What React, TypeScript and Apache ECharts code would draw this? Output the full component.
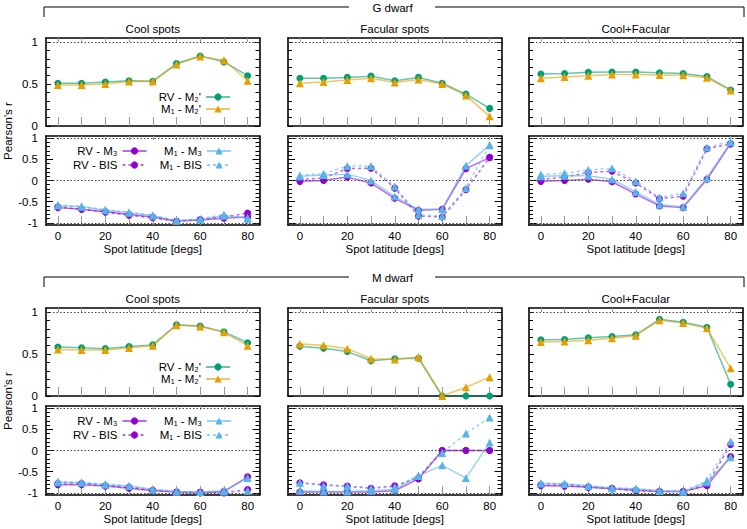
import React, { useEffect, useRef } from 'react';
import * as echarts from 'echarts';

// ---------- data ----------
const latitudes = ['0', '10', '20', '30', '40', '50', '60', '70', '80'];
const xLabel = 'Spot latitude [degs]';
const panelTitles = ['Cool spots', 'Facular spots', 'Cool+Facular'];
const groupTitles = ['G dwarf', 'M dwarf'];

const topNames = ["RV - M\u2082'", "M\u2081 - M\u2082'"];
const bottomNames = ['RV - M\u2083', 'RV - BIS', 'M\u2081 - M\u2083', 'M\u2081 - BIS'];

// G dwarf, upper panels (RV - M2', M1 - M2')
const gCoolRvM2 = [0.51, 0.51, 0.525, 0.54, 0.535, 0.745, 0.835, 0.765, 0.6];
const gCoolM1M2 = [0.49, 0.49, 0.5, 0.53, 0.53, 0.735, 0.83, 0.785, 0.54];
const gFacRvM2 = [0.57, 0.57, 0.58, 0.595, 0.54, 0.58, 0.51, 0.38, 0.21];
const gFacM1M2 = [0.51, 0.525, 0.55, 0.57, 0.52, 0.555, 0.5, 0.365, 0.115];
const gCfRvM2 = [0.62, 0.625, 0.64, 0.645, 0.645, 0.635, 0.625, 0.59, 0.43];
const gCfM1M2 = [0.57, 0.585, 0.6, 0.615, 0.615, 0.61, 0.605, 0.575, 0.425];

// G dwarf, lower panels (RV - M3, RV - BIS, M1 - M3, M1 - BIS)
const gCoolRvM3 = [-0.64, -0.68, -0.74, -0.8, -0.86, -0.96, -0.93, -0.89, -0.86];
const gCoolRvBis = [-0.62, -0.68, -0.74, -0.82, -0.88, -0.96, -0.92, -0.86, -0.77];
const gCoolM1M3 = [-0.59, -0.62, -0.7, -0.76, -0.83, -0.95, -0.92, -0.83, -0.88];
const gCoolM1Bis = [-0.58, -0.61, -0.69, -0.75, -0.82, -0.94, -0.91, -0.8, -0.9];
const gFacRvM3 = [-0.02, 0.0, 0.08, -0.06, -0.42, -0.7, -0.68, 0.28, 0.54];
const gFacRvBis = [0.02, 0.06, 0.28, 0.29, -0.18, -0.84, -0.86, -0.22, 0.55];
const gFacM1M3 = [0.1, 0.13, 0.15, 0.0, -0.38, -0.68, -0.67, 0.35, 0.84];
const gFacM1Bis = [0.12, 0.16, 0.34, 0.34, -0.14, -0.81, -0.84, -0.18, 0.83];
const gCfRvM3 = [-0.02, 0.0, 0.03, -0.03, -0.32, -0.6, -0.64, 0.03, 0.87];
const gCfRvBis = [0.03, 0.08, 0.19, 0.22, -0.06, -0.43, -0.37, 0.75, 0.86];
const gCfM1M3 = [0.1, 0.11, 0.11, 0.03, -0.27, -0.57, -0.62, 0.06, 0.9];
const gCfM1Bis = [0.14, 0.17, 0.25, 0.29, -0.02, -0.4, -0.3, 0.78, 0.92];

// M dwarf, upper panels
const mCoolRvM2 = [0.585, 0.575, 0.565, 0.59, 0.61, 0.85, 0.835, 0.765, 0.635];
const mCoolM1M2 = [0.555, 0.55, 0.548, 0.572, 0.6, 0.845, 0.83, 0.76, 0.6];
const mFacRvM2 = [0.595, 0.57, 0.53, 0.42, 0.445, 0.45, 0.0, 0.0, 0.0];
const mFacM1M2 = [0.62, 0.605, 0.565, 0.445, 0.435, 0.465, 0.0, 0.105, 0.225];
const mCfRvM2 = [0.67, 0.675, 0.695, 0.71, 0.73, 0.915, 0.88, 0.82, 0.14];
const mCfM1M2 = [0.645, 0.65, 0.665, 0.69, 0.72, 0.905, 0.87, 0.81, 0.33];

// M dwarf, lower panels
const mCoolRvM3 = [-0.81, -0.81, -0.84, -0.89, -0.95, -0.98, -1.0, -0.97, -0.62];
const mCoolRvBis = [-0.78, -0.78, -0.83, -0.87, -0.94, -0.98, -0.98, -1.0, -0.92];
const mCoolM1M3 = [-0.75, -0.76, -0.81, -0.84, -0.92, -0.97, -0.98, -0.95, -0.65];
const mCoolM1Bis = [-0.73, -0.75, -0.79, -0.84, -0.92, -0.97, -0.98, -0.97, -0.95];
const mFacRvM3 = [-0.98, -0.98, -0.98, -0.98, -0.95, -0.67, 0.0, 0.0, 0.0];
const mFacRvBis = [-0.76, -0.81, -0.84, -0.89, -0.83, -0.65, 0.0, 0.0, 0.0];
const mFacM1M3 = [-0.95, -0.97, -0.97, -0.95, -0.92, -0.6, -0.35, -0.65, 0.19];
const mFacM1Bis = [-0.76, -0.83, -0.84, -0.89, -0.86, -0.59, -0.06, 0.4, 0.78];
const mCfRvM3 = [-0.83, -0.84, -0.87, -0.9, -0.94, -0.97, -0.97, -0.83, -0.14];
const mCfRvBis = [-0.81, -0.82, -0.86, -0.9, -0.95, -0.97, -0.97, -0.81, 0.14];
const mCfM1M3 = [-0.78, -0.79, -0.84, -0.89, -0.9, -0.95, -0.97, -0.75, -0.16];
const mCfM1Bis = [-0.77, -0.78, -0.83, -0.88, -0.9, -0.95, -0.97, -0.71, 0.21];

const topMajor = [0, 0.5, 1];
const topMinor = [0.1, 0.2, 0.3, 0.4, 0.6, 0.7, 0.8, 0.9];
const bottomMajor = [-1, -0.5, 0, 0.5, 1];
const bottomMinor = [-0.9, -0.8, -0.7, -0.6, -0.4, -0.3, -0.2, -0.1, 0.1, 0.2, 0.3, 0.4, 0.6, 0.7, 0.8, 0.9];

// ---------- styling / layout ----------
const FONT = "'Liberation Sans', Arial, Helvetica, sans-serif";
const FS = 11.5;
const GREEN = '#009e73';
const ORANGE = '#e69f00';
const PURPLE = '#9400d3';
const BLUE = '#56b4e9';

const colLeft = [46, 288, 529];
const colWidth = 213.5;
const groupOffset = [0, 270];

function textEl(text: string, x: number, y: number, rotation = 0) {
  return {
    type: 'text',
    x,
    y,
    rotation,
    style: {
      text,
      fill: '#000',
      font: `${FS}px ${FONT}`,
      align: 'center',
      verticalAlign: 'middle',
      textAlign: 'center',
      textVerticalAlign: 'middle',
    },
  };
}

function buildOption() {
  const grids: any[] = [];
  const xAxes: any[] = [];
  const yAxes: any[] = [];
  const series: any[] = [];
  const graphics: any[] = [];
  const legends: any[] = [];

  const topData = [
    [[gCoolRvM2, gCoolM1M2], [gFacRvM2, gFacM1M2], [gCfRvM2, gCfM1M2]],
    [[mCoolRvM2, mCoolM1M2], [mFacRvM2, mFacM1M2], [mCfRvM2, mCfM1M2]],
  ];
  const bottomData = [
    [
      [gCoolRvM3, gCoolRvBis, gCoolM1M3, gCoolM1Bis],
      [gFacRvM3, gFacRvBis, gFacM1M3, gFacM1Bis],
      [gCfRvM3, gCfRvBis, gCfM1M3, gCfM1Bis],
    ],
    [
      [mCoolRvM3, mCoolRvBis, mCoolM1M3, mCoolM1Bis],
      [mFacRvM3, mFacRvBis, mFacM1M3, mFacM1Bis],
      [mCfRvM3, mCfRvBis, mCfM1M3, mCfM1Bis],
    ],
  ];

  const topStyles = [
    { color: GREEN, symbol: 'circle', size: 7, dash: 'solid' },
    { color: ORANGE, symbol: 'triangle', size: 8, dash: 'solid' },
  ];
  const bottomStyles = [
    { color: PURPLE, symbol: 'circle', size: 7, dash: 'solid' },
    { color: PURPLE, symbol: 'circle', size: 7, dash: [3, 3] },
    { color: BLUE, symbol: 'triangle', size: 8, dash: 'solid' },
    { color: BLUE, symbol: 'triangle', size: 8, dash: [3, 3] },
  ];

  const legendBase = {
    orient: 'vertical',
    align: 'right',
    padding: 0,
    itemWidth: 24,
    itemHeight: 9,
    selectedMode: false,
    textStyle: { color: '#000', fontSize: FS, fontFamily: FONT },
  };

  let gi = 0;
  for (let g = 0; g < 2; g++) {
    const off = groupOffset[g];
    for (let row = 0; row < 2; row++) {
      const isTop = row === 0;
      const top = off + (isTop ? 38 : 136);
      const height = isTop ? 88 : 89;
      for (let c = 0; c < 3; c++) {
        grids.push({ left: colLeft[c], top, width: colWidth, height, containLabel: false });
        const xb = xAxes.length;
        const baseX = {
          type: 'category',
          data: latitudes,
          gridIndex: gi,
          boundaryGap: true,
          axisLine: { show: true, onZero: false, lineStyle: { color: '#000', width: 1.6 } },
          splitLine: { show: false },
        };
        xAxes.push({
          ...baseX,
          position: 'bottom',
          axisTick: { show: true, inside: true, alignWithLabel: true, interval: 0, length: 9, lineStyle: { color: '#9a9a9a', width: 1 } },
          axisLabel: { show: !isTop, interval: 1, margin: 5, color: '#000', fontSize: FS, fontFamily: FONT },
          name: isTop ? '' : xLabel,
          nameLocation: 'middle',
          nameGap: 18,
          nameTextStyle: { color: '#000', fontSize: FS, fontFamily: FONT },
        });
        xAxes.push({
          ...baseX,
          position: 'top',
          axisTick: { show: true, inside: true, alignWithLabel: true, interval: 0, length: 4, lineStyle: { color: '#9a9a9a', width: 1 } },
          axisLabel: { show: false },
        });

        const yb = yAxes.length;
        const ymin = isTop ? 0 : -1.05;
        const ymax = 1.05;
        const major = isTop ? topMajor : bottomMajor;
        const minor = isTop ? topMinor : bottomMinor;
        const majorLen = isTop ? 5 : 7;
        const minorLen = 4;
        for (const pos of ['left', 'right']) {
          yAxes.push({
            type: 'value',
            gridIndex: gi,
            position: pos,
            min: ymin,
            max: ymax,
            axisLine: { show: true, onZero: false, lineStyle: { color: '#000', width: 1.6 } },
            splitLine: { show: false },
            axisTick: { show: true, inside: true, customValues: major, length: majorLen, lineStyle: { color: '#000', width: 1 } },
            axisLabel: {
              show: pos === 'left' && c === 0,
              customValues: major,
              margin: 8,
              color: '#000',
              fontSize: FS,
              fontFamily: FONT,
            },
          });
          yAxes.push({
            type: 'value',
            gridIndex: gi,
            position: pos,
            min: ymin,
            max: ymax,
            axisLine: { show: false, onZero: false },
            splitLine: { show: false },
            axisTick: { show: true, inside: true, customValues: minor, length: minorLen, lineStyle: { color: '#000', width: 1 } },
            axisLabel: { show: false, customValues: minor },
          });
        }

        const dataSets = isTop ? topData[g][c] : bottomData[g][c];
        const names = isTop ? topNames : bottomNames;
        const styles = isTop ? topStyles : bottomStyles;
        dataSets.forEach((vals: number[], k: number) => {
          const st = styles[k];
          const s: any = {
            type: 'line',
            name: names[k],
            xAxisIndex: xb,
            yAxisIndex: yb,
            data: vals,
            clip: false,
            symbol: st.symbol,
            symbolSize: st.size,
            itemStyle: { color: st.color },
            lineStyle: { color: st.color, width: 1.5, opacity: 0.6, type: st.dash },
            emphasis: { disabled: true },
            z: 3 + k,
          };
          if (k === 0) {
            s.markLine = {
              silent: true,
              symbol: 'none',
              label: { show: false },
              lineStyle: { color: '#444', type: [1.5, 2], width: 1 },
              data: (isTop ? [1] : [1, 0, -1]).map((v) => ({ yAxis: v })),
            };
          }
          series.push(s);
        });

        if (c === 0) {
          if (isTop) {
            legends.push({ ...legendBase, right: 747 - 231, top: off + 91, itemGap: 0, data: topNames });
          } else {
            legends.push({ ...legendBase, right: 747 - 147.5, top: off + 145, itemGap: 2, data: [bottomNames[0], bottomNames[1]] });
            legends.push({ ...legendBase, right: 747 - 232, top: off + 145, itemGap: 2, data: [bottomNames[2], bottomNames[3]] });
          }
        }

        if (isTop) {
          graphics.push(textEl(panelTitles[c], colLeft[c] + colWidth / 2, off + 29));
        }
        gi++;
      }
    }

    // group bracket and title
    graphics.push({
      type: 'polyline',
      shape: { points: [[44, off + 17], [44, off + 7], [349, off + 7]] },
      style: { stroke: '#000', lineWidth: 1, fill: 'none' },
    });
    graphics.push({
      type: 'polyline',
      shape: { points: [[435, off + 7], [744, off + 7], [744, off + 17]] },
      style: { stroke: '#000', lineWidth: 1, fill: 'none' },
    });
    graphics.push(textEl(groupTitles[g], 392.5, off + 8));
    graphics.push(textEl("Pearson's r", 8, off + 131, Math.PI / 2));
  }

  return {
    animation: false,
    backgroundColor: '#fff',
    grid: grids,
    xAxis: xAxes,
    yAxis: yAxes,
    legend: legends,
    series,
    graphic: graphics,
  };
}

export default function App() {
  const ref = useRef<HTMLDivElement>(null);
  useEffect(() => {
    document.body.style.margin = '0';
    const chart = echarts.init(ref.current as HTMLDivElement, null, { renderer: 'svg' });
    chart.setOption(buildOption() as any);
    return () => {
      chart.dispose();
    };
  }, []);
  return <div ref={ref} style={{ width: 747, height: 529 }} />;
}
